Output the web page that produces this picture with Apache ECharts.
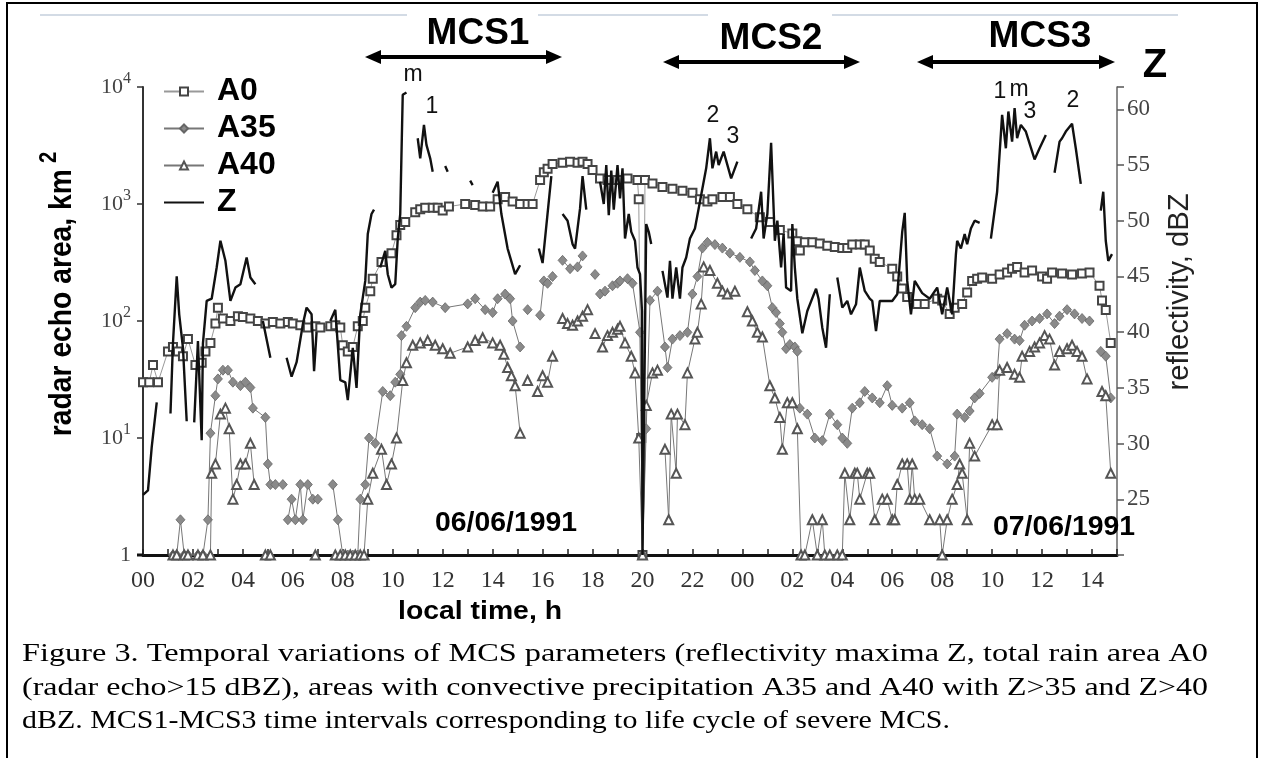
<!DOCTYPE html>
<html><head><meta charset="utf-8">
<script src="https://cdn.jsdelivr.net/npm/echarts@6/dist/echarts.min.js"></script>
<style>html,body{margin:0;padding:0;background:#fff}#c{width:1264px;height:758px}</style>
</head><body><div id="c"></div>
<script>
// ---------- DATA (time in hours from 00:00 on 06/06/1991) ----------
const X_TICK_LABELS = ['00','02','04','06','08','10','12','14','16','18','20','22','00','02','04','06','08','10','12','14'];
const LOG_TICK_EXPONENTS = [0,1,2,3,4];
const Z_TICK_LABELS = [25,30,35,40,45,50,55,60];
const SERIES_NAMES = ['A0','A35','A40','Z'];

const A0 = [[0,30],[0.25,30],[0.4,42],[0.6,30],[1.0,55],[1.2,60],[1.4,55],[1.6,50],[1.8,70],[2.1,42],[2.35,44],[2.5,55],[2.7,65],[2.9,95],[3.0,130],[3.2,105],[3.5,100],[3.8,110],[4.0,108],[4.3,105],[4.6,100],[4.9,95],[5.2,98],[5.5,95],[5.8,98],[6.0,95],[6.3,92],[6.6,88],[6.9,90],[7.1,88],[7.5,90],[7.7,92],[7.9,88],[8.0,62],[8.2,55],[8.4,60],[8.6,90],[8.8,100],[8.9,130],[9.1,180],[9.2,230],[9.55,320],[9.95,380],[10.15,540],[10.3,660],[10.5,700],[10.9,850],[11.1,900],[11.3,930],[11.6,930],[11.8,930],[12.0,880],[12.25,950],[12.9,1000],[13.3,980],[13.6,950],[13.9,950],[14.2,1100],[14.5,1150],[14.8,1050],[15.1,1000],[15.4,1000],[15.6,1000],[15.9,1600],[16.05,1870],[16.2,2000],[16.4,2200],[16.8,2250],[17.1,2300],[17.4,2250],[17.6,2300],[17.8,2200],[18.0,1950],[18.3,1650],[18.6,1600],[19.0,1600],[19.4,1650],[19.8,1600],[19.85,1100],[19.95,10],[20.0,1],[20.1,1600],[20.4,1500],[20.8,1400],[21.2,1350],[21.6,1300],[22.0,1250],[22.3,1100],[22.6,1050],[22.8,1100],[23.2,1150],[23.5,1150],[23.8,1000],[24.2,900],[24.7,770],[25.1,700],[25.5,600],[26.0,560],[26.2,480],[26.3,400],[26.5,470],[26.8,470],[27.1,460],[27.4,440],[27.7,430],[28.0,420],[28.2,420],[28.4,450],[28.7,450],[28.9,450],[29.1,400],[29.3,340],[29.5,320],[30.0,280],[30.2,240],[30.4,190],[30.6,160],[31.0,140],[31.3,140],[31.8,155],[32.0,150],[32.3,115],[32.5,130],[32.8,140],[33.0,175],[33.2,220],[33.4,230],[33.6,235],[34.0,230],[34.3,250],[34.6,260],[34.8,280],[35.0,290],[35.3,260],[35.6,270],[36.0,240],[36.2,230],[36.4,260],[36.8,255],[37.2,250],[37.6,255],[37.9,260],[38.3,200],[38.4,150],[38.55,124],[38.75,65]];

const A35 = [[1.2,1],[1.35,1],[1.5,2],[1.65,1],[1.8,1],[2.2,1],[2.4,1],[2.6,2],[2.7,11],[2.9,23],[3.0,32],[3.2,38],[3.4,38],[3.6,30],[3.9,28],[4.1,30],[4.3,27],[4.4,18],[4.9,15],[5.0,6],[5.1,4],[5.3,4],[5.6,4],null,[5.8,2],[5.95,3],[6.1,2],[6.3,4],[6.4,2],[6.6,4],[6.8,3],[7.0,3],null,[7.6,4],[7.8,2],[8.0,1],[8.2,1],[8.4,1],[8.6,1],[8.7,3],[8.9,4],[9.05,10],[9.3,9],[9.6,25],[9.9,23],[10.1,30],[10.3,35],[10.35,75],[10.55,90],[10.9,130],[11.1,145],[11.3,150],[11.6,145],[12.1,130],[13.0,140],[13.3,155],[13.7,125],[14.0,118],[14.2,155],[14.5,170],[14.7,155],[14.8,100],[15.1,60],null,[15.4,125],null,[15.9,112],[16.05,220],[16.2,210],[16.4,240],null,[16.8,330],[17.1,280],[17.4,290],[17.6,360],null,[18.1,250],null,[18.3,170],[18.5,180],[18.8,200],[19.0,210],[19.1,220],[19.4,230],[19.6,210],[19.9,80],[20.0,1],[20.15,12],[20.3,150],[20.6,180],[20.9,60],[21.0,40],[21.2,70],[21.5,75],[21.8,80],[22.0,170],[22.2,240],[22.4,420],[22.6,470],[22.9,450],[23.2,420],[23.5,380],[23.9,350],[24.3,320],[24.5,270],[24.8,220],[25.0,200],[25.2,130],[25.35,118],[25.5,95],[25.6,80],[25.75,58],[25.9,63],[26.1,60],[26.2,55],[26.3,18],[26.6,16],[26.9,10],[27.2,9.5],[27.5,16],[27.8,13],[28.0,10],[28.2,9],[28.4,18],[28.7,20],[28.9,25],[29.2,22],[29.5,20],[29.8,28],[30.0,19],[30.4,18],[30.7,20],[30.9,14],[31.2,13],[31.5,12],[31.8,7],[32.2,6],[32.5,7],[32.6,16],[32.9,15],[33.1,17],[33.3,22],[33.5,24],[34.0,33],[34.2,35],[34.3,70],[34.6,78],[34.9,70],[35.1,68],[35.3,92],[35.6,100],[35.9,105],[36.2,115],[36.5,95],[36.7,110],[37.0,125],[37.3,115],[37.6,105],[37.9,100],null,[38.35,55],[38.55,50],[38.75,22]];

const A40 = [[1.2,1],[1.35,1],[1.65,1],[1.8,1],[2.2,1],[2.4,1],[2.7,1],[2.75,5],[2.9,6],[3.1,16],[3.3,18],[3.45,12],[3.6,3],[3.75,4],[3.9,6],[4.1,6],[4.3,9],[4.45,4],null,[4.9,1],[5.1,1],null,[6.9,1],null,[7.7,1],[7.9,1],[8.1,1],[8.3,1],[8.5,1],[8.7,1],[8.85,1],[9.0,3],[9.2,5],[9.55,8],[9.75,4],[9.95,6],[10.15,10],[10.4,31],[10.55,44],[10.8,62],[11.1,65],[11.4,68],[11.7,62],[12.0,58],[12.3,53],[13.0,60],[13.3,68],[13.6,72],[14.0,65],[14.3,62],[14.45,52],[14.6,40],[14.75,34],[14.9,28],[15.1,11],null,[15.4,31],null,[15.8,25],[16.0,34],[16.2,30],[16.4,50],null,[16.8,105],[17.0,95],[17.2,92],[17.4,100],[17.6,110],[17.8,125],null,[18.1,78],null,[18.4,60],[18.6,75],[18.8,80],[19.0,85],[19.1,90],[19.3,65],[19.55,50],[19.7,36],[19.85,10],[20.0,1],[20.15,19],[20.4,36],[20.6,38],null,[20.9,8],[21.05,2],[21.15,16],[21.35,5],[21.4,16],[21.7,13],[21.8,36],[22.1,70],[22.2,80],[22.35,140],[22.45,290],[22.7,270],[23.0,210],[23.2,180],[23.4,170],[23.7,180],null,[24.2,120],[24.4,100],[24.6,80],[24.8,73],[25.1,28],[25.3,22],[25.5,15],[25.6,8],[25.8,20],[26.0,20],[26.2,12],[26.35,1],[26.5,1],[26.8,2],[27.0,1],[27.2,2],[27.3,1],[27.5,1],[27.8,1],[28.0,1],[28.1,5],[28.3,2],[28.5,5],[28.6,5],[28.7,3],[29.0,5],[29.1,5],[29.3,2],[29.6,3],[29.8,3],[30.0,2],[30.1,2],[30.2,4],[30.4,6],[30.6,6],[30.7,3],[30.8,6],[30.9,3],[31.1,3],[31.5,2],null,[31.9,2],[32.0,1],[32.2,2],[32.4,3],[32.6,4],[32.7,6],[32.8,5],[33.0,2],[33.1,9],[33.3,7],[34.0,13],[34.2,13],[34.3,38],[34.6,40],[34.9,35],[35.1,33],[35.2,50],[35.5,55],[35.7,60],[35.9,65],[36.1,75],[36.3,70],[36.5,42],[36.7,55],[37.0,58],[37.2,62],[37.4,55],[37.6,50],[37.8,32],null,[38.4,25],[38.55,23],[38.75,5]];

const Z = [[0,25.4],[0.2,25.8],[0.35,29.7],[0.55,33.7],null,[1.1,32.7],[1.2,39],[1.35,45],[1.45,41.6],[1.6,38.6],[1.75,32],null,[2.05,31.9],[2.2,39.2],[2.35,30.3],[2.4,39],[2.55,42.8],[2.75,43],[2.95,45.8],[3.1,48.2],[3.3,46.4],[3.5,42.8],[3.7,44],[3.9,44.3],[4.15,46.7],[4.3,44.9],[4.5,44.3],null,[4.8,41],[5.1,37.7],null,[5.75,37.7],[5.95,36],[6.15,37.3],[6.4,40.7],[6.55,42.2],[6.75,41.6],[6.85,36.5],[6.95,40],null,[7.5,41],[7.7,42],[7.9,35.7],[8.1,35.5],[8.2,33.9],[8.4,38.6],[8.55,35],[8.7,41.6],[8.9,44.6],[9.0,48.8],[9.15,50.6],[9.25,51],null,[9.5,45.8],[9.7,47.3],[9.8,45.2],[9.95,44],[10.1,44.3],[10.2,48.4],[10.3,50.6],[10.35,56],[10.4,61.3],[10.55,61.5],null,[11.0,57.4],[11.1,55.6],[11.25,58.6],[11.35,56.8],[11.5,55.6],[11.6,54.4],null,[12.1,54.9],[12.2,54.4],null,[13.1,53.6],[13.2,53.2],null,[14.0,52.5],[14.2,53.5],[14.35,50.6],[14.6,47.5],[14.9,45.2],[15.1,46],null,[15.85,47.5],[16.0,46.2],[16.35,54],null,[16.8,50.6],[17.0,50],[17.2,47.9],[17.3,47.5],[17.5,51.1],[17.6,54],[17.75,51],null,[18.3,53.5],[18.45,51.5],[18.55,55],[18.65,50.5],[18.75,54.5],[18.85,51],[19.0,55],[19.1,52],[19.2,54.7],[19.3,48.4],[19.45,50.6],[19.55,49],[19.7,48.2],[19.8,45.8],[19.9,45.2],[19.98,41.9],[20.0,20],[20.05,20],[20.15,49.7],[20.25,49],[20.35,47.9],null,[20.8,45.5],[21.0,43.1],[21.1,46.4],[21.2,43],[21.35,45.8],[21.5,43],[21.6,45.8],[21.75,46.7],[21.9,48.4],[22.1,49.3],[22.3,51.7],[22.55,54.7],[22.7,57.4],[22.8,54.7],[22.95,56.2],[23.05,55],[23.25,56.2],[23.55,53.8],[23.8,55.3],null,[24.35,48.4],[24.55,49.3],[24.75,52.6],[24.85,48.4],[25.0,50.6],[25.15,57],[25.3,48.2],[25.4,50],[25.55,45.8],[25.65,48.8],[25.75,44],[25.95,43.7],[26.0,49.7],[26.1,45.8],[26.2,43],[26.4,39.9],[26.6,41.9],[26.95,43.9],[27.05,43],[27.2,40.4],[27.35,38.6],[27.5,43.4],null,[27.8,44.9],[28.0,42.2],[28.2,42.8],[28.35,41.6],[28.55,42.5],[28.7,45.8],[28.9,43.7],[29.1,43],[29.2,42.8],[29.35,40.1],[29.5,42.8],[29.8,42.8],[30.0,42.8],[30.2,43.4],[30.4,49],[30.5,50.7],[30.6,44.6],[30.75,41.6],[30.9,44.6],[31.2,43.5],[31.5,43],[31.8,44],[32.0,41.6],[32.2,44],[32.4,41.6],[32.55,47],[32.6,48.2],[32.75,47.5],[32.9,48.8],[33.0,47.9],[33.15,49.3],[33.3,50],[33.5,49.8],null,[33.95,48.4],[34.2,52.6],[34.4,59.5],[34.55,56.5],[34.65,59.8],[34.8,57.1],[34.9,60.1],[35.0,57.4],[35.15,58.6],[35.35,58],[35.7,55.5],[35.9,56.5],[36.15,57.7],null,[36.5,54.3],[36.7,57.1],[36.8,57.4],[36.95,58],[37.2,58.7],[37.35,56.5],[37.55,53.3],null,[38.35,50.9],[38.45,52.6],[38.55,48.2],[38.65,46.4],[38.8,47]];

const CAPTION = [
  'Figure 3. Temporal variations of MCS parameters (reflectivity maxima Z, total rain area A0',
  '(radar echo>15 dBZ), areas with convective precipitation A35 and A40 with Z>35 and Z>40',
  'dBZ. MCS1-MCS3 time intervals corresponding to life cycle of severe MCS.'
];

// ---------- helpers ----------
const prep = arr => arr.map(p => p === null ? ['-','-'] : p);
const cv = document.createElement('canvas').getContext('2d');
function measure(text, font){ cv.font = font; return cv.measureText(text).width; }
const SANS = '"Liberation Sans", Arial, sans-serif';
const SERIF = '"Liberation Serif", "Times New Roman", serif';

function text(t, x, y, size, opt){
  opt = opt || {};
  const weight = opt.bold ? 'bold' : 'normal';
  const fam = opt.family || SANS;
  let sx = 1;
  if (opt.width) sx = opt.width / measure(t, weight + ' ' + size + 'px ' + fam);
  return {type:'text', x:x, y:y, scaleX:sx, scaleY:(opt.sy||1), z:100,
    style:{text:t, fontSize:size, fontWeight:weight, fontFamily:fam, fill: opt.color || '#000',
      align: opt.align || 'left', textAlign: opt.align || 'left', verticalAlign:'middle', textVerticalAlign:'middle'}};
}
function arrow(x1, x2, y){
  const h = 16, w = 7;
  return [
    {type:'line', z:100, shape:{x1:x1+h-2, y1:y, x2:x2-h+2, y2:y}, style:{stroke:'#000', lineWidth:4}},
    {type:'polygon', z:100, shape:{points:[[x1,y],[x1+h,y-w],[x1+h,y+w]]}, style:{fill:'#000'}},
    {type:'polygon', z:100, shape:{points:[[x2,y],[x2-h,y-w],[x2-h,y+w]]}, style:{fill:'#000'}}
  ];
}

const graphics = [];
graphics.push({type:'rect', z:100, shape:{x:7, y:3, width:1250, height:780}, style:{fill:'none', stroke:'#000', lineWidth:2}});
[[40,407],[538,708],[832,1178]].forEach(s => graphics.push({type:'line', z:1, shape:{x1:s[0], y1:15, x2:s[1], y2:15}, style:{stroke:'#c5cfdc', lineWidth:1.5}}));
graphics.push({type:'line', z:1, shape:{x1:137, y1:555, x2:143, y2:555}, style:{stroke:'#111', lineWidth:3}});
graphics.push(text('MCS1', 478, 34, 37, {bold:true, align:'center'}));
graphics.push(text('MCS2', 771, 39, 37, {bold:true, align:'center'}));
graphics.push(text('MCS3', 1040, 37, 37, {bold:true, align:'center'}));
graphics.push(...arrow(365, 562, 57), ...arrow(663, 860, 62), ...arrow(917, 1115, 62));
graphics.push(text('Z', 1155, 66, 40, {bold:true, align:'center'}));
// peak annotations
[['m',413,75],['1',432,107],['2',713,116],['3',733,137],['1',1000,92],['m',1019,90],['3',1030,112],['2',1073,101]]
  .forEach(a => graphics.push(text(a[0], a[1], a[2], 23, {align:'center', color:'#111'})));
graphics.push(text('06/06/1991', 435, 523, 28, {bold:true, width:142}));
graphics.push(text('07/06/1991', 993, 527, 28, {bold:true, width:142}));
graphics.push(text('local time, h', 398, 612, 25, {bold:true, width:164}));
// rotated axis names
{
  const f = 28, base = 'radar echo area, km';
  const len = measure(base, 'bold ' + f + 'px ' + SANS);
  const s = 267 / len;
  graphics.push({type:'text', x:62, y:294, rotation:Math.PI/2, scaleX:s, scaleY:1.15, z:100,
    style:{text:'{a|' + base + '}{s|2}', align:'center', textAlign:'center', verticalAlign:'middle', textVerticalAlign:'middle',
      rich:{a:{fontSize:f, fontWeight:'bold', fontFamily:SANS, fill:'#000', color:'#000'},
            s:{fontSize:20, fontWeight:'bold', fontFamily:SANS, fill:'#000', color:'#000', padding:[0,0,22,6]}}}});
  const t2 = 'reflectivity, dBZ', f2 = 27;
  const s2 = 197 / measure(t2, 'normal ' + f2 + 'px ' + SANS);
  graphics.push({type:'text', x:1180, y:292, rotation:Math.PI/2, scaleX:s2, scaleY:1.1, z:100,
    style:{text:t2, fontSize:f2, fontFamily:SANS, fill:'#222', align:'center', textAlign:'center', verticalAlign:'middle', textVerticalAlign:'middle'}});
}
// caption
const capY = [654, 688, 721], capW = [1186, 1186, 928];
CAPTION.forEach((c, i) => graphics.push(text(c, 22, capY[i], 26, {family:SERIF, width:capW[i]})));

const chart = echarts.init(document.getElementById('c'), null, {renderer:'canvas'});
chart.setOption({
  animation:false,
  backgroundColor:'#fff',
  grid:{left:143, right:147, top:87, bottom:203, containLabel:false},
  legend:{orient:'vertical', left:158, top:70, itemWidth:40, itemHeight:10, itemGap:4,
    textStyle:{fontSize:32, fontWeight:'bold', fontFamily:SANS, color:'#000', lineHeight:33, padding:[0,0,0,8]},
    data:['A0','A35','A40',{name:'Z', itemStyle:{opacity:0, color:'rgba(0,0,0,0)', borderWidth:0}}]},
  xAxis:{type:'value', min:0, max:39, interval:1,
    axisLine:{lineStyle:{color:'#111', width:3}},
    axisTick:{inside:true, length:6, lineStyle:{color:'#222', width:1.5}},
    splitLine:{show:false},
    axisLabel:{margin:14, fontFamily:SERIF, fontSize:24, color:'#333',
      formatter: v => (v % 2 === 0 && v/2 < X_TICK_LABELS.length) ? X_TICK_LABELS[v/2] : ''}},
  yAxis:[
    {type:'log', logBase:10, min:1, max:10000, position:'left',
      axisLine:{show:true, lineStyle:{color:'#333', width:2}},
      axisTick:{show:true, length:6, lineStyle:{color:'#333', width:1.5}},
      splitLine:{show:false},
      axisLabel:{margin:12, color:'#444',
        formatter: v => { const e = Math.round(Math.log10(v)); if (!LOG_TICK_EXPONENTS.includes(e)) return ''; return e === 0 ? '{b|1}' : '{b|10}{s|' + e + '}'; },
        rich:{b:{fontFamily:SERIF, fontSize:22, color:'#444'}, s:{fontFamily:SERIF, fontSize:16, color:'#444', padding:[0,0,16,0]}}}},
    {type:'value', min:20, max:62, interval:5, position:'right',
      axisLine:{show:true, lineStyle:{color:'#666', width:1.5}},
      axisTick:{show:true, length:7, lineStyle:{color:'#555', width:1.5}},
      splitLine:{show:false},
      axisLabel:{margin:10, fontFamily:SERIF, fontSize:23, color:'#444',
        formatter: v => Z_TICK_LABELS.includes(v) ? String(v) : ''}}
  ],
  series:[
    {name:'A0', type:'line', data:prep(A0), yAxisIndex:0, symbol:'emptyRect', symbolSize:8, showSymbol:true, showAllSymbol:true,
      itemStyle:{color:'#444', borderWidth:1.2}, lineStyle:{color:'#999', width:1}, connectNulls:false, z:2},
    {name:'A35', type:'line', data:prep(A35), yAxisIndex:0, symbol:'diamond', symbolSize:[9,10], showSymbol:true, showAllSymbol:true,
      itemStyle:{color:'#8a8a8a', borderColor:'#666', borderWidth:0.8}, lineStyle:{color:'#777', width:1}, connectNulls:false, z:3},
    {name:'A40', type:'line', data:prep(A40), yAxisIndex:0, symbol:'emptyTriangle', symbolSize:9, showSymbol:true, showAllSymbol:true,
      itemStyle:{color:'#555', borderWidth:1.1}, lineStyle:{color:'#777', width:1}, connectNulls:false, z:4},
    {name:'Z', type:'line', data:prep(Z), yAxisIndex:1, symbol:'none', showSymbol:false,
      itemStyle:{color:'#111'}, lineStyle:{color:'#111', width:2.4}, connectNulls:false, z:5}
  ],
  graphic:graphics
});
</script></body></html>
